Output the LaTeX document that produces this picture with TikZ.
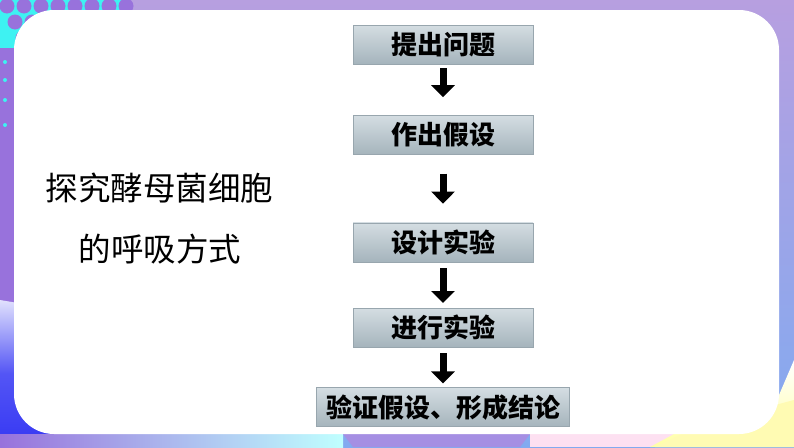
\documentclass[tikz,border=0pt]{standalone}
\usepackage{fontspec}
\setmainfont{Noto Sans CJK SC}
\newfontfamily\cjk{Noto Sans CJK SC}
\usetikzlibrary{positioning}
\usetikzlibrary{arrows.meta}

\definecolor{framelilac}{HTML}{B79FE0}
\definecolor{framesky}{HTML}{82AAF0}
\definecolor{framepurple}{HTML}{9872DC}
\definecolor{frameblue}{HTML}{3537F3}
\definecolor{dotcyan}{HTML}{3EF2F2}
\definecolor{boxtop}{HTML}{D4DDE2}
\definecolor{boxbottom}{HTML}{A5B4BC}
\definecolor{boxline}{HTML}{98A6AE}

\begin{document}
\begin{tikzpicture}
	[x=1pt,y=-1pt,
	stage/.style={rectangle,draw=boxline,top color=boxtop,bottom color=boxbottom,
		minimum width=180pt,minimum height=39pt,inner sep=0pt,
		font=\cjk\bfseries\fontsize{26pt}{26pt}\selectfont},
	topic/.style={font=\cjk\fontsize{32.5pt}{32.5pt}\selectfont},
	flow/.style={line width=7pt,-{Triangle[width=23pt,length=12pt]}}]
	\useasboundingbox (0,0) rectangle (794,447);
	% frame
	\shade[top color=framelilac,bottom color=framesky] (0,0) rectangle (794,447);
	\fill[framepurple] (0,0) rectangle (80,310);
	\shade[top color=white!85!frameblue,bottom color=frameblue,middle color=frameblue!85] (0,300) -- (60,310) -- (60,447) -- (0,447) -- cycle;
	\fill[dotcyan] (0,0) rectangle (130,48);
	\foreach \i in {0,...,7}
		\foreach \j in {0,1,2}
			\fill[framepurple] (\i*17+7+\j*8,\j*16+6) circle (7.5);
	\foreach \y in {62,80,100,125} \fill[dotcyan] (5,\y) circle (2);
	\shade[left color=framepurple,right color=cyan!25] (0,434) rectangle (343,447);
	\fill[framelilac!90!blue] (343,434) -- (530,434) -- (520,447) -- (353,447) -- cycle;
	\fill[magenta!12] (530,434) rectangle (794,447);
	\shade[top color=white,bottom color=yellow!35] (794,360) -- (794,447) -- (650,447) -- (700,420) -- (779,395) -- cycle;
	\fill[yellow!30] (794,400) -- (794,447) -- (655,447) -- (700,425) -- cycle;
	% panel
	\fill[white,rounded corners=40pt] (14,10) rectangle (779,434);
	% steps
	\node[stage] (ask) at (443,44.5) {提出问题};
	\node[stage] (guess) [below=51pt of ask] {作出假设};
	\node[stage] (plan) [below=68pt of guess] {设计实验};
	\node[stage] (run) [below=46pt of plan] {进行实验};
	\node[stage,minimum width=253pt] (conclude) [below=40pt of run] {验证假设、形成结论};
	\draw[flow,shorten <=4pt,shorten >=18pt] (ask.south) -- (guess.north);
	\draw[flow,shorten <=19pt,shorten >=19pt] (guess.south) -- (plan.north);
	\draw[flow,shorten <=6pt,shorten >=5pt] (plan.south) -- (run.north);
	\draw[flow,shorten <=6pt,shorten >=4pt] (run.south) -- (conclude.north);
	% title
	\node[topic] (topica) at (159.5,188) {探究酵母菌细胞};
	\node[topic] (topicb) at (160,249) {的呼吸方式};
\end{tikzpicture}
\end{document}
